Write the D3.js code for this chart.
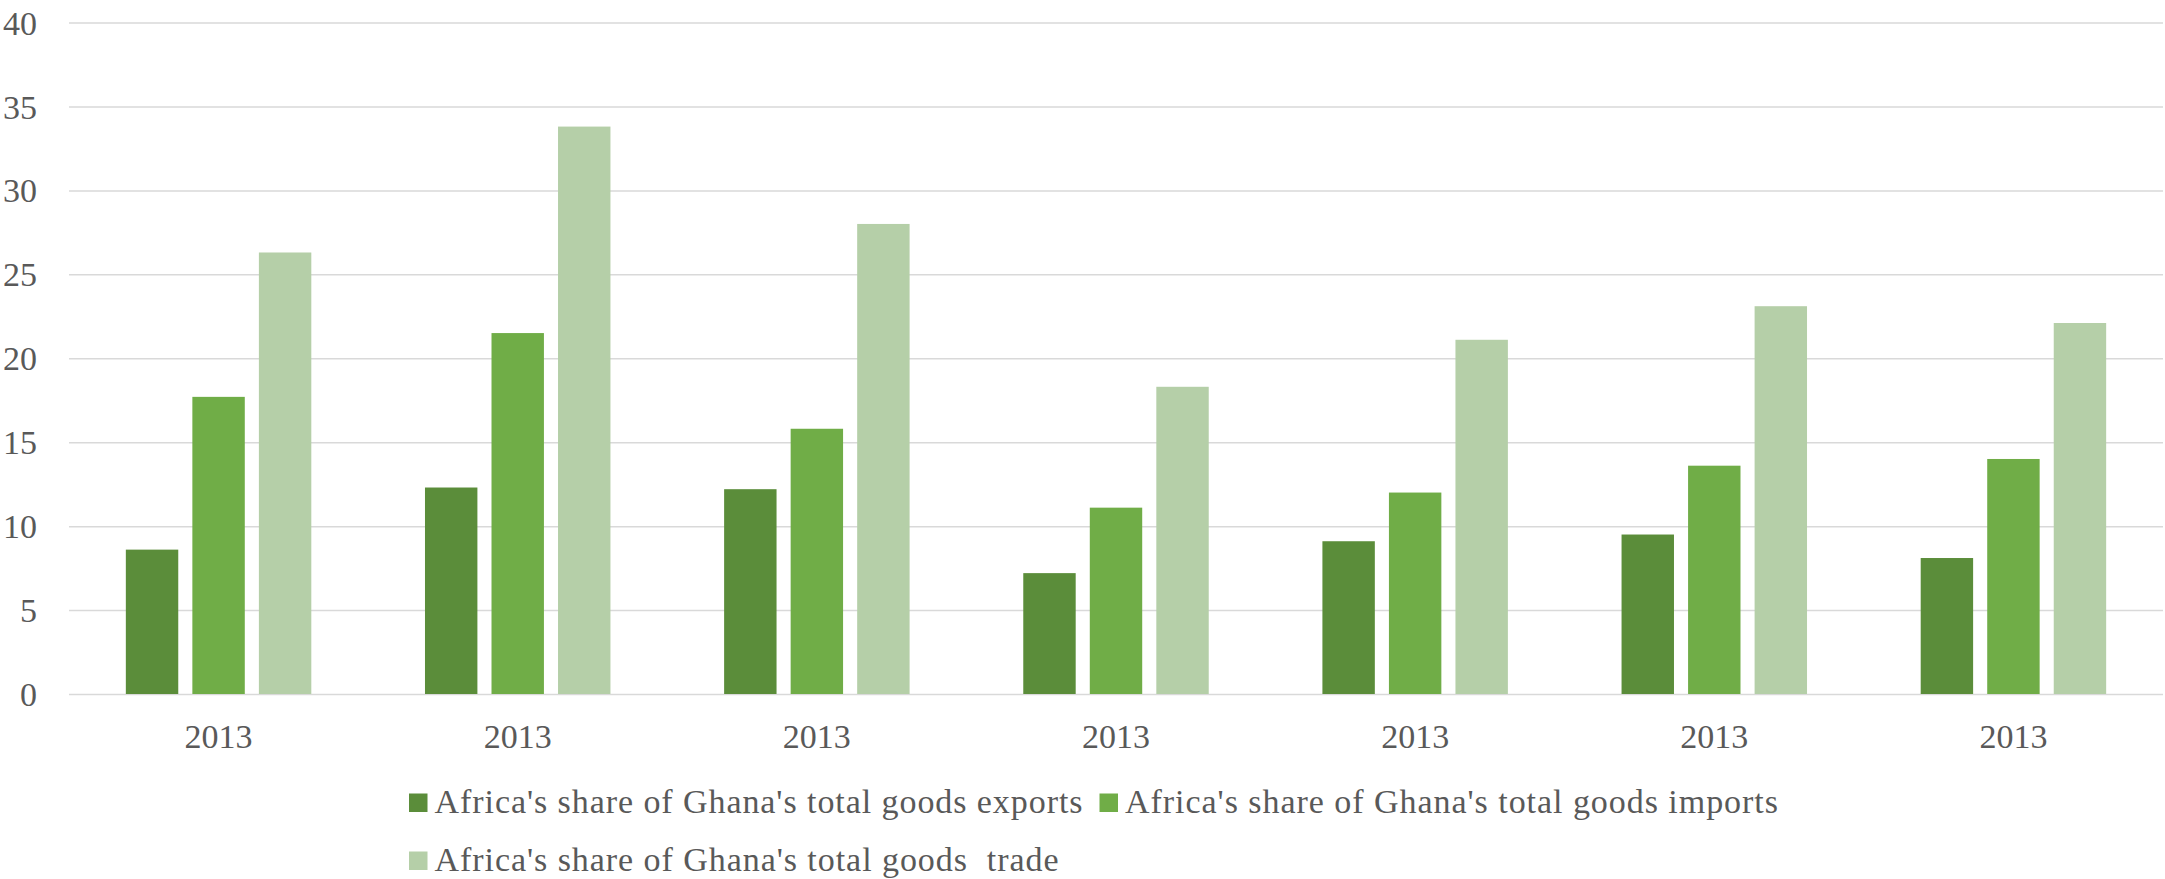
<!DOCTYPE html>
<html>
<head>
<meta charset="utf-8">
<script src="https://cdn.jsdelivr.net/npm/d3@7/dist/d3.min.js"></script>
<style>
  html, body { margin: 0; padding: 0; background: #ffffff; }
  svg { display: block; }
  text { font-family: "Liberation Serif", "DejaVu Serif", serif; fill: #595959; }
</style>
</head>
<body>
<svg id="chart" width="2165" height="879"></svg>
<script>
// Category labels along the x axis (every group is labelled 2013)
const categories = ["2013", "2013", "2013", "2013", "2013", "2013", "2013"];

// Series names, as shown in the legend
const seriesNames = [
  "Africa's share of Ghana's total goods exports",
  "Africa's share of Ghana's total goods imports",
  "Africa's share of Ghana's total goods  trade"
];

// Values per series (percent)
const exportsShare = [8.6, 12.3, 12.2, 7.2, 9.1, 9.5, 8.1];
const importsShare = [17.7, 21.5, 15.8, 11.1, 12.0, 13.6, 14.0];
const tradeShare   = [26.3, 33.8, 28.0, 18.3, 21.1, 23.1, 22.1];

// Y axis ticks
const yTicks = [0, 5, 10, 15, 20, 25, 30, 35, 40];

const seriesValues = [exportsShare, importsShare, tradeShare];
const colors = ["#5b8d3a", "#70ad47", "#b5cfa8"];

const svg = d3.select("#chart");

const plot = { left: 69, right: 2163, top: 22.5, bottom: 694 };

const y = d3.scaleLinear().domain([0, 40]).range([plot.bottom, plot.top]);

const x0 = d3.scaleBand()
  .domain(d3.range(categories.length))
  .range([plot.left, plot.right])
  .paddingInner(0).paddingOuter(0);

const bw = x0.bandwidth();
const x1 = d3.scaleBand()
  .domain(d3.range(seriesNames.length))
  .range([bw * 0.19, bw * 0.81])
  .paddingInner(0.212).paddingOuter(0);

// Horizontal gridlines
const grid = d3.axisLeft(y).tickValues(yTicks).tickSize(-(plot.right - plot.left)).tickFormat("");
svg.append("g")
  .attr("transform", `translate(${plot.left},0)`)
  .call(grid)
  .call(g => g.select(".domain").remove())
  .call(g => g.selectAll("line").attr("stroke", "#d9d9d9").attr("stroke-width", 1.5));

// Y tick labels
const yAxis = d3.axisLeft(y).tickValues(yTicks).tickSize(0).tickPadding(0).tickFormat(d3.format("d"));
svg.append("g")
  .attr("transform", `translate(37,0)`)
  .call(yAxis)
  .call(g => g.select(".domain").remove())
  .call(g => g.selectAll("text")
    .attr("font-size", 34)
    .attr("font-family", "'Liberation Serif', serif")
    .attr("fill", "#595959")
    .attr("dy", "0.34em"));

// Bars
const groups = svg.append("g").selectAll("g")
  .data(categories.map((c, i) => i))
  .join("g")
  .attr("transform", i => `translate(${x0(i)},0)`);

groups.selectAll("rect")
  .data(i => seriesValues.map((vals, s) => ({ s, v: vals[i] })))
  .join("rect")
  .attr("x", d => x1(d.s))
  .attr("width", x1.bandwidth())
  .attr("y", d => y(d.v))
  .attr("height", d => y(0) - y(d.v))
  .attr("fill", d => colors[d.s]);

// X axis labels
const xAxis = d3.axisBottom(x0).tickSize(0).tickPadding(0).tickFormat(i => categories[i]);
svg.append("g")
  .attr("transform", `translate(0,${plot.bottom})`)
  .call(xAxis)
  .call(g => g.select(".domain").remove())
  .call(g => g.selectAll("text")
    .attr("font-size", 34)
    .attr("font-family", "'Liberation Serif', serif")
    .attr("fill", "#595959")
    .attr("dy", null)
    .attr("y", 54));

// Legend: two rows, flowing left to right; label widths fixed so the
// serif face spreads like the original Garamond-style lettering
const legend = svg.append("g");
const rows = [[0, 1], [2]];
const rowBaselines = [813, 871];
const labelWidths = [648, 653, 624];
const legendX = 409;
const sq = 18.5;
rows.forEach((row, r) => {
  let cx = legendX;
  row.forEach(s => {
    legend.append("rect")
      .attr("x", cx).attr("y", rowBaselines[r] - 19.5)
      .attr("width", sq).attr("height", sq)
      .attr("fill", colors[s]);
    legend.append("text")
      .attr("x", cx + sq + 7)
      .attr("y", rowBaselines[r])
      .attr("font-size", 34)
      .attr("textLength", labelWidths[s])
      .attr("lengthAdjust", "spacing")
      .attr("xml:space", "preserve")
      .style("white-space", "pre")
      .text(seriesNames[s]);
    cx += sq + 7 + labelWidths[s] + 17;
  });
});
</script>
</body>
</html>
